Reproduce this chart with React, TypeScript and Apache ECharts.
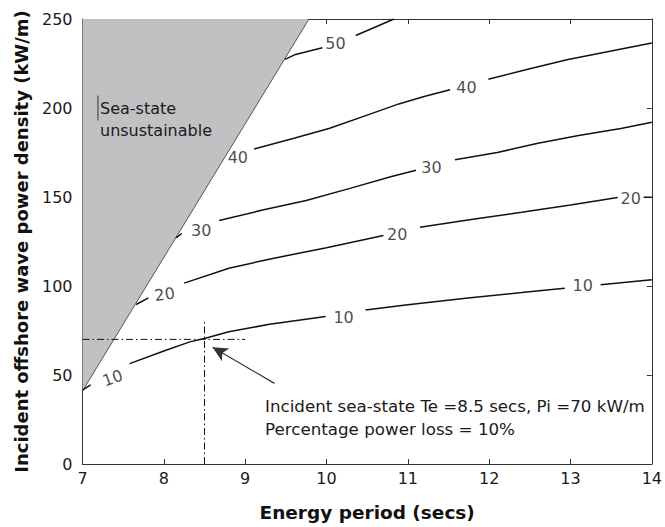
import React, { useEffect, useRef } from "react";
import * as echarts from "echarts";

// Axis ticks
const xTicks = [7, 8, 9, 10, 11, 12, 13, 14];
const yTicks = [0, 50, 100, 150, 200, 250];

// Unsustainable sea-state boundary (Te, Pi)
const boundaryPts = [
  [7.0, 41],
  [9.785, 250],
];

// Contour lines of percentage power loss, split into segments (gaps for labels)
const contour10 = [
  [[7.0, 41.5], [7.1, 44.5]],
  [[7.58, 56.4], [8.0, 63.5], [8.32, 68.6], [8.5, 70.5], [8.8, 74.3], [9.3, 78.5], [9.99, 82.8]],
  [[10.48, 86.5], [11.0, 89.5], [11.74, 93.3], [12.4, 96.3], [12.93, 98.8]],
  [[13.37, 100.7], [14.0, 103.5]],
];
const contour20 = [
  [[7.66, 89.6], [7.81, 93.3]],
  [[8.25, 101.6], [8.8, 110], [9.34, 115.5], [10.0, 121.5], [10.7, 128.4]],
  [[11.15, 133], [11.8, 137.5], [12.4, 141.4], [13.0, 145.5], [13.58, 149.7]],
  [[13.9, 149.8], [14.0, 149.8]],
];
const contour30 = [
  [[8.15, 127], [8.22, 129.5]],
  [[8.68, 136.8], [9.2, 142.5], [9.75, 148], [10.3, 155], [10.8, 161.5], [11.1, 165]],
  [[11.58, 170.9], [12.1, 175], [12.6, 180.2], [13.1, 184.5], [13.62, 188.5], [14.0, 192]],
];
const contour40 = [
  [[9.11, 177], [9.6, 183], [10.03, 188.5], [10.5, 196], [10.89, 202.3], [11.2, 206.5], [11.52, 210.3]],
  [[11.99, 216.2], [12.5, 222], [12.97, 227.3], [13.5, 232], [14.0, 236.5]],
];
const contour50 = [
  [[9.49, 227.3], [9.62, 230.1], [9.95, 233.8]],
  [[10.36, 240.7], [10.83, 250]],
];

// Contour label positions [Te, Pi, level]
const contourLabels = [
  [7.37, 48.2, 10],
  [10.21, 82.2, 10],
  [13.15, 100.3, 10],
  [8.01, 95.3, 20],
  [10.87, 129.2, 20],
  [13.74, 149.3, 20],
  [8.46, 131.2, 30],
  [11.29, 166.3, 30],
  [8.91, 172.2, 40],
  [11.72, 211.6, 40],
  [10.11, 236.0, 50],
];
const contourLabelRotation = [20, 0, 0, 8, 0, 0, 0, 0, 0, 0, 0];

// Incident sea-state
const incidentTe = 8.5;
const incidentPi = 70;
const hGuide = [[7, 70], [9, 70]];
const vGuide = [[8.5, 0], [8.5, 80]];
const arrowFromTo = [[9.36, 45.3], [8.6, 65.6]];
const cursorMark = [[7.19, 193], [7.19, 207]];

const FONT = "DejaVu Sans";

export default function App() {
  const ref = useRef<HTMLDivElement>(null);
  useEffect(() => {
    if (!ref.current) return;
    const chart = echarts.init(ref.current, null, { renderer: "svg" });

    const allContours = [contour10, contour20, contour30, contour40, contour50];
    const contourSeries: any[] = [];
    allContours.forEach((segs, ci) => {
      segs.forEach((seg, si) => {
        contourSeries.push({
          type: "line",
          name: `c${ci}-${si}`,
          data: seg,
          showSymbol: false,
          symbol: "none",
          lineStyle: { color: "#111", width: 1.5 },
          z: 4,
        });
      });
    });

    const axisCommon = {
      type: "value",
      axisLine: { show: true, onZero: false, lineStyle: { color: "#333", width: 1 } },
      axisTick: { show: true, inside: true, length: 5, lineStyle: { color: "#333" } },
      splitLine: { show: false },
    };

    chart.setOption({
      animation: false,
      backgroundColor: "#fff",
      textStyle: { fontFamily: FONT },
      grid: { left: 82.5, right: 11, top: 19, bottom: 57, containLabel: false },
      xAxis: [
        {
          ...axisCommon,
          position: "bottom",
          min: xTicks[0],
          max: xTicks[xTicks.length - 1],
          interval: 1,
          axisLabel: { fontFamily: FONT, fontSize: 16, color: "#1a1a1a", margin: 6 },
          name: "Energy period (secs)",
          nameLocation: "middle",
          nameGap: 39,
          nameTextStyle: { fontFamily: FONT, fontSize: 18.5, fontWeight: "bold", color: "#111" },
        },
        {
          ...axisCommon,
          position: "top",
          min: xTicks[0],
          max: xTicks[xTicks.length - 1],
          interval: 1,
          axisLabel: { show: false },
        },
      ],
      yAxis: [
        {
          ...axisCommon,
          position: "left",
          min: yTicks[0],
          max: yTicks[yTicks.length - 1],
          interval: 50,
          axisLabel: { fontFamily: FONT, fontSize: 16, color: "#1a1a1a", margin: 10 },
          name: "Incident offshore wave power density (kW/m)",
          nameLocation: "middle",
          nameGap: 52,
          nameTextStyle: { fontFamily: FONT, fontSize: 18, fontWeight: "bold", color: "#111" },
        },
        {
          ...axisCommon,
          position: "right",
          min: yTicks[0],
          max: yTicks[yTicks.length - 1],
          interval: 50,
          axisLabel: { show: false },
        },
      ],
      series: [
        {
          type: "line",
          name: "boundary",
          data: boundaryPts,
          showSymbol: false,
          symbol: "none",
          lineStyle: { color: "#555", width: 1 },
          areaStyle: { color: "#c1c1c4", opacity: 1, origin: "end" },
          z: 1,
        },
        ...contourSeries,
        {
          type: "line",
          name: "hGuide",
          data: hGuide,
          showSymbol: false,
          symbol: "none",
          lineStyle: { color: "#111", width: 1, type: [7, 3, 1.5, 3] },
          z: 3,
        },
        {
          type: "line",
          name: "vGuide",
          data: vGuide,
          showSymbol: false,
          symbol: "none",
          lineStyle: { color: "#111", width: 1, type: [7, 3, 1.5, 3] },
          z: 3,
          markLine: {
            silent: true,
            symbol: ["none", "arrow"],
            symbolSize: [11, 15],
            lineStyle: { color: "#333", width: 1.2, type: "solid" },
            label: { show: false },
            data: [[{ coord: arrowFromTo[0] }, { coord: arrowFromTo[1] }]],
          },
        },
        {
          type: "line",
          name: "cursor",
          data: cursorMark,
          showSymbol: false,
          symbol: "none",
          lineStyle: { color: "#333", width: 1 },
          z: 3,
        },
        {
          type: "scatter",
          name: "labels",
          data: contourLabels.map((d, i) => ({
            value: [d[0], d[1]],
            label: { rotate: contourLabelRotation[i] },
          })),
          symbolSize: 1,
          itemStyle: { color: "rgba(0,0,0,0)" },
          label: {
            show: true,
            position: "inside",
            formatter: (p: any) => String(contourLabels[p.dataIndex][2]),
            fontFamily: FONT,
            fontSize: 16,
            color: "#1a1a1a",
          },
          z: 5,
        },
      ],
      graphic: [
        {
          type: "text",
          left: 100,
          top: 97,
          style: {
            text: "Sea-state\nunsustainable",
            font: `16px "${FONT}"`,
            fill: "#1a1a1a",
            lineHeight: 22,
          },
          z: 10,
        },
        {
          type: "text",
          left: 265,
          top: 394,
          style: {
            text: `Incident sea-state Te =${incidentTe} secs, Pi =${incidentPi} kW/m\nPercentage power loss = 10%`,
            font: `16.7px "${FONT}"`,
            fill: "#1a1a1a",
            lineHeight: 23,
          },
          z: 10,
        },
      ],
    });
    return () => chart.dispose();
  }, []);
  return (
    <div
      ref={ref}
      style={{ position: "absolute", left: 0, top: 0, width: 665, height: 527, background: "#fff" }}
    />
  );
}
